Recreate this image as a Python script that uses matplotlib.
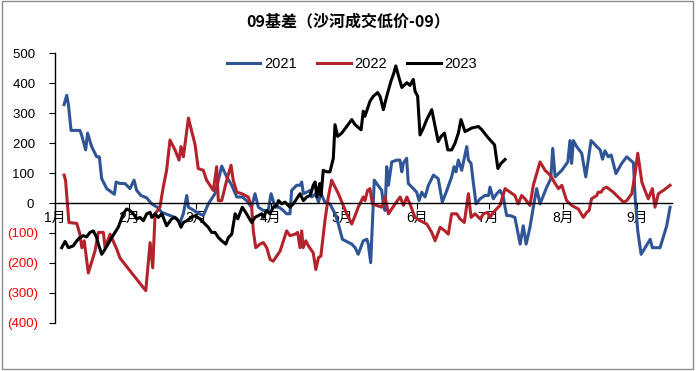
import matplotlib
matplotlib.use("Agg")
import matplotlib.pyplot as plt
from matplotlib.patches import Rectangle

# x = day of year (0 = Jan 1), y = basis value
days_2021 = [3.8, 4.9, 5.6, 6.7, 10.4, 11.1, 12.8, 13.6, 15.3, 17.4, 18.5, 19.5, 21.6, 24.8, 25.5, 27.1,
             29.2, 31.3, 33.0, 34.1, 35.9, 38.3, 40.4, 43.1, 44.5, 50.1, 52.2, 53.6, 55.0, 55.7, 57.0, 59.2,
             61.9, 64.0, 66.8, 68.2, 69.6, 71.7, 73.8, 75.9, 78.2, 80.0, 82.1, 83.5, 84.9, 87.0, 89.0, 90.2,
             91.9, 93.5, 95.3, 96.7, 98.1, 98.8, 100.9, 102.3, 103.0, 103.7, 105.1, 106.5, 107.2, 108.9,
             110.0, 111.0, 112.7, 114.8, 116.9, 118.3, 120.0, 123.9, 125.3, 126.6, 128.7, 130.2, 130.8,
             131.8, 133.3, 134.3, 136.4, 137.0, 137.8, 138.5, 139.2, 140.6, 142.7, 144.0, 144.8, 145.4,
             146.8, 147.5, 149.6, 151.0, 152.0, 153.1, 154.5, 155.9, 158.0, 160.0, 161.7, 163.6, 165.6,
             166.6, 167.4, 168.4, 169.8, 171.9, 172.6, 173.7, 174.7, 175.8, 177.5, 179.5, 181.0, 181.6,
             183.0, 184.4, 185.8, 187.2, 187.9, 188.6, 190.0, 192.0, 193.4, 194.2, 195.5, 196.7, 198.3,
             199.7, 201.1, 202.5, 205.3, 207.0, 207.8, 208.8, 211.6, 214.1, 215.0, 215.7, 216.4, 217.8,
             219.9, 221.6, 223.8, 225.5, 227.6, 228.6, 229.6, 231.0, 232.2, 234.2, 236.6, 238.7, 241.5,
             242.2, 243.3, 244.7, 248.5, 249.4, 252.6, 255.4, 256.8]
vals_2021 = [328, 359, 328, 242, 242, 227, 177, 233, 188, 154, 154, 81, 48, 29, 70, 65,
             65, 48, 76, 42, 25, 17, -3, -16, -31, -48, -65, -35, 25, -14, -20, -31,
             -42, -3, 31, 76, 123, 87, 59, 20, 20, 8, -14, 31, -14, -25, -25, 31,
             -14, -14, -25, -36, -36, 42, 59, 59, 70, 31, 36, 42, 20, 31,
             3, 31, 3, -3, -36, -70, -121, -137, -149, -171, -126, -121, -137,
             -199, 76, 65, 42, 3, -25, 121, 59, 137, 143, 143, 104, 132,
             149, 65, 48, 36, 8, 36, 20, 59, 93, 81, 3, 42, 87,
             121, 104, 143, 109, 188, 143, 132, 65, -3, 14, 25, 25, 53,
             14, 31, 42, 20, -14, -42, -42, -48, -104, -137, -76, -137, -81,
             -14, 48, -3, 53, 81, 182, 87, 109, 137, 208, 132, 208, 188,
             166, 87, 208, 194, 177, 146, 174, 154, 160, 98, 132, 154, 134,
             20, -93, -171, -121, -149, -149, -76, -14]

days_2022 = [3.8, 4.4, 5.8, 9.1, 10.4, 11.2, 12.2, 13.9, 16.7, 18.1, 20.2, 20.9, 23.0, 25.8, 27.1, 32.0,
             37.9, 39.7, 40.8, 41.8, 43.8, 45.2, 46.6, 48.0, 50.1, 51.8, 52.6, 53.6, 55.7, 58.5, 59.8,
             61.9, 63.3, 66.1, 67.5, 68.2, 69.6, 71.7, 73.5, 74.4, 75.9, 78.0, 80.7, 82.1, 82.8, 83.8,
             85.6, 87.0, 88.4, 89.8, 91.1, 94.0, 96.7, 98.1, 100.2, 101.3, 102.3, 103.0, 103.6, 104.7,
             105.8, 107.8, 108.9, 110.0, 111.0, 112.7, 114.1, 115.5, 118.3, 121.8, 123.9, 125.3, 126.6,
             128.7, 129.4, 130.5, 131.5, 132.5, 134.3, 136.4, 137.8, 139.2, 142.0, 144.1, 145.5, 146.9,
             148.2, 150.3, 152.4, 155.2, 157.3, 158.7, 160.8, 162.8, 164.2, 165.6, 167.7, 169.1, 170.9,
             172.6, 173.7, 175.4, 177.5, 178.9, 180.7, 181.6, 183.0, 185.8, 187.9, 190.0, 192.0, 193.4,
             194.8, 196.2, 198.3, 199.7, 202.5, 204.6, 206.7, 208.8, 210.2, 211.6, 213.6, 215.7, 218.5,
             220.6, 222.0, 223.0, 224.0, 226.2, 226.8, 228.0, 229.0, 230.3, 233.1, 237.3, 238.7, 240.8,
             242.2, 243.3, 245.0, 246.3, 247.7, 249.4, 250.5, 251.9, 254.0, 256.8]
vals_2022 = [93, 76, -65, -68, -104, -149, -126, -233, -160, -98, -98, -149, -104, -154, -183, -233,
             -292, -132, -216, -36, -14, 53, 109, 210, 177, 143, 188, 154, 283, 194, 115,
             109, 76, 42, 121, 8, 8, 76, 126, 76, 36, 31, 20, -14, -93, -149,
             -137, -132, -149, -188, -194, -160, -93, -109, -104, -98, -149, -93, -149, -126,
             -143, -166, -222, -182, -177, -59, 20, 76, 31, -36, -70, -42, -14,
             20, 8, 42, 48, -3, -8, -14, 20, -36, -3, 20, -8, 20,
             -3, -48, -59, -70, -98, -126, -81, -93, -104, -36, -36, -53, -65,
             31, -48, -36, -53, -36, -31, -48, -31, -8, 48, 36, 25, -3,
             25, 14, -8, 59, 137, 109, 93, 65, 48, 59, 8, -8, -20,
             -48, -31, -25, 14, 25, 36, 36, 48, 53, 36, 3, 8, 31,
             98, 166, 70, 42, 14, 48, -14, 31, 42, 59]

days_2023 = [2.8, 4.2, 5.6, 7.6, 9.1, 10.4, 11.8, 13.2, 14.6, 16.0, 17.4, 18.1, 19.5, 20.9, 23.7, 26.4,
             28.5, 29.9, 31.3, 32.7, 34.1, 35.5, 36.9, 38.3, 39.7, 40.4, 41.8, 43.1, 44.6, 46.6, 48.7,
             50.1, 51.5, 52.6, 53.6, 55.0, 57.0, 58.5, 60.5, 62.6, 64.0, 65.4, 66.8, 68.2, 69.6, 71.3,
             72.4, 73.8, 75.2, 76.3, 78.2, 80.0, 82.1, 83.5, 84.9, 86.3, 87.0, 88.4, 89.8, 91.1, 92.6,
             93.3, 94.7, 96.0, 98.1, 99.5, 100.9, 102.3, 103.7, 105.1, 106.5, 107.2, 107.8, 108.6, 109.3,
             110.0, 110.6, 111.1, 112.0, 113.4, 114.8, 116.2, 116.9, 118.0, 119.7, 121.8, 123.9, 125.3,
             127.8, 128.7, 129.4, 131.5, 132.9, 134.7, 135.7, 137.1, 138.5, 140.3, 141.3, 142.3, 143.4,
             144.8, 146.9, 148.2, 149.6, 150.3, 151.4, 152.4, 153.8, 155.2, 157.3, 158.7, 160.0, 161.2,
             162.6, 164.0, 165.6, 167.0, 168.4, 169.5, 171.2, 174.0, 176.8, 178.2, 181.0, 183.5, 184.9,
             186.2, 187.9]
vals_2023 = [-149, -128, -149, -143, -126, -115, -109, -113, -98, -93, -115, -137, -171, -154, -115, -81,
             -36, -20, -25, -36, -53, -48, -59, -36, -31, -48, -36, -48, -36, -76, -53,
             -48, -59, -81, -65, -59, -48, -42, -53, -70, -81, -98, -98, -115, -126, -137,
             -115, -104, -36, -53, -14, -36, -65, -48, -42, -36, -48, -25, -36, -14, -8,
             8, -3, 3, -14, -3, 14, 31, 8, 20, 25, 42, 59, 70, 20,
             48, 65, 25, 109, 104, 104, 149, 261, 222, 233, 255, 278, 261,
             244, 306, 289, 339, 356, 368, 356, 311, 356, 407, 429, 457, 424,
             385, 401, 392, 412, 373, 356, 227, 250, 278, 311, 255, 205, 222,
             233, 177, 177, 199, 233, 278, 238, 250, 255, 244, 216, 194, 115,
             132, 145]

month_days = [0, 31, 59, 90, 120, 151, 181, 212, 243]
month_labels = ["1月", "2月", "3月", "4月", "5月", "6月", "7月", "8月", "9月"]
y_ticks = [-400, -300, -200, -100, 0, 100, 200, 300, 400, 500]

plt.rcParams['font.family'] = ['Liberation Sans', 'Noto Sans CJK SC']

fig = plt.figure(figsize=(6.96, 3.71), dpi=100)
ax = fig.add_axes([55 / 696, 1 - 323 / 371, 617 / 696, 270 / 371])

ax.plot(days_2021, vals_2021, color='#2F5597', lw=2.2, label='2021')
ax.plot(days_2022, vals_2022, color='#B4232B', lw=2.2, label='2022')
ax.plot(days_2023, vals_2023, color='black', lw=2.2, label='2023')

ax.set_xlim(0, 257.6)
ax.set_ylim(-400, 500)

ax.spines['top'].set_visible(False)
ax.spines['right'].set_visible(False)
ax.spines['bottom'].set_position(('data', 0))
ax.spines['bottom'].set_linewidth(1.0)
ax.spines['left'].set_linewidth(1.0)

ax.set_xticks(month_days, month_labels)
ax.tick_params(axis='x', direction='out', length=4, pad=2, labelsize=10)

ylabels = [f"({-v})" if v < 0 else f"{v} " for v in y_ticks]
ax.set_yticks(y_ticks, ylabels)
ax.tick_params(axis='y', direction='out', length=4, pad=8, labelsize=9.5)
for lab, v in zip(ax.get_yticklabels(), y_ticks):
    if v < 0:
        lab.set_color('red')

fig.text(0.5, 1 - 21 / 371, "09基差（沙河成交低价-09）", ha='center', va='center',
         fontsize=11.5, fontweight='bold', family=['Noto Sans CJK SC'])

fig.legend(loc='center', bbox_to_anchor=(352 / 696, 1 - 64 / 371), ncol=3, frameon=False,
           fontsize=10.5, handlelength=2.3, handletextpad=0.25, columnspacing=1.4)

fig.patches.append(Rectangle((0.003, 0.006), 0.993, 0.99, transform=fig.transFigure,
                             fill=False, edgecolor='#8c8c8c', lw=1.0))

fig.savefig("out.png", dpi=100)
